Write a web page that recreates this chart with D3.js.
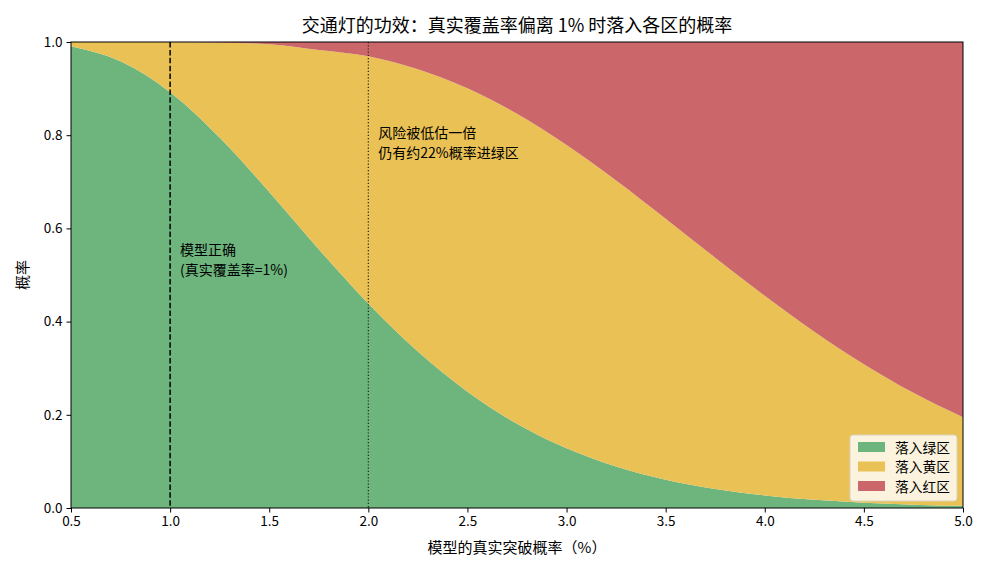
<!DOCTYPE html>
<html><head><meta charset="utf-8">
<script src="https://cdn.jsdelivr.net/npm/d3@7/dist/d3.min.js"></script>
<style>
html,body{margin:0;padding:0;background:#fff;}
text{font-family:"Noto Sans CJK SC","Noto Sans",sans-serif;fill:#000;}
</style></head>
<body><svg id="chart" width="990" height="572"></svg>
<script>
// true breach probability (%)
const pTrue = [0.5,0.75,1.0,1.25,1.5,1.75,2.0,2.25,2.5,2.75,3.0,3.25,3.5,3.75,4.0,4.25,4.5,4.75,5.0];
const greenProb = [0.9911,0.9585,0.8922,0.7948,0.6780,0.5554,0.4387,0.3356,0.2495,0.1809,0.1282,0.0891,0.0608,0.0408,0.0270,0.0176,0.0114,0.0072,0.0046];
const yellowProb = [0.0089,0.0414,0.1076,0.2038,0.3172,0.4275,0.5309,0.6060,0.6510,0.6650,0.6509,0.6138,0.5601,0.4964,0.4284,0.3608,0.2973,0.2399,0.1900];
const redProb = [0.0000,0.0001,0.0002,0.0014,0.0048,0.0171,0.0304,0.0584,0.0995,0.1541,0.2209,0.2971,0.3791,0.4628,0.5446,0.6216,0.6913,0.7529,0.8054];
const seriesNames = ["落入绿区","落入黄区","落入红区"];
const xTicks = [0.5,1.0,1.5,2.0,2.5,3.0,3.5,4.0,4.5,5.0];
const yTicks = [0.0,0.2,0.4,0.6,0.8,1.0];
const titleText = "交通灯的功效：真实覆盖率偏离 1% 时落入各区的概率";
const xLabel = "模型的真实突破概率（%）";
const yLabel = "概率";

const colors = ["#6db57d","#e9c155","#cb676a"];
const svg = d3.select("#chart");
const m = {l:71, r:963, t:42, b:508};
const x = d3.scaleLinear().domain([0.5,5.0]).range([m.l,m.r]);
const y = d3.scaleLinear().domain([0,1]).range([m.b,m.t]);

const rows = pTrue.map((p,i)=>({p, g:greenProb[i], yl:yellowProb[i], r:redProb[i]}));
const stack = d3.stack().keys(["g","yl","r"]);
const layers = stack(rows);

svg.append("defs").append("clipPath").attr("id","clip")
  .append("rect").attr("x",m.l).attr("y",m.t).attr("width",m.r-m.l).attr("height",m.b-m.t);

const area = d3.area().curve(d3.curveMonotoneX)
  .x(d=>x(d.data.p)).y0(d=>y(d[0])).y1(d=>y(Math.min(1,d[1])));
const g = svg.append("g").attr("clip-path","url(#clip)");
g.selectAll("path.layer").data(layers).join("path")
  .attr("class","layer")
  .attr("fill",(d,i)=>colors[i])
  .attr("d",(d,i)=> i===2 ? d3.area().curve(d3.curveMonotoneX).x(e=>x(e.data.p)).y0(e=>y(e[0])).y1(y(1))(d) : area(d));

// reference lines
svg.append("line").attr("x1",x(1.0)).attr("x2",x(1.0)).attr("y1",m.t).attr("y2",m.b)
  .attr("stroke","#000").attr("stroke-width",1.5).attr("stroke-dasharray","5.5,2.4");
svg.append("line").attr("x1",x(2.0)).attr("x2",x(2.0)).attr("y1",m.t).attr("y2",m.b)
  .attr("stroke","#222").attr("stroke-width",1.2).attr("stroke-dasharray","1.2,2");

// annotations
const ann1 = svg.append("text").attr("font-size",14);
ann1.append("tspan").attr("x",x(1.05)).attr("y",y(0.5)-20).text("模型正确");
ann1.append("tspan").attr("x",x(1.05)).attr("y",y(0.5)).text("(真实覆盖率=1%)");
const ann2 = svg.append("text").attr("font-size",14);
ann2.append("tspan").attr("x",x(2.05)).attr("y",y(0.75)-21).text("风险被低估一倍");
ann2.append("tspan").attr("x",x(2.05)).attr("y",y(0.75)-1).text("仍有约22%概率进绿区");

// axes
const xAxis = d3.axisBottom(x).tickValues(xTicks).tickFormat(d3.format(".1f")).tickSize(4.5).tickPadding(4);
const yAxis = d3.axisLeft(y).tickValues(yTicks).tickFormat(d3.format(".1f")).tickSize(4.5).tickPadding(4);
const gx = svg.append("g").attr("transform",`translate(0,${m.b})`).call(xAxis);
const gy = svg.append("g").attr("transform",`translate(${m.l},0)`).call(yAxis);
[gx,gy].forEach(a=>{
  a.select(".domain").remove();
  a.selectAll("text").attr("font-size",13.5).style("font-family",'"Noto Sans CJK SC","Noto Sans",sans-serif').attr("fill","#000");
  a.selectAll("line").attr("stroke","#000").attr("stroke-width",1);
});
svg.append("rect").attr("x",m.l).attr("y",m.t).attr("width",m.r-m.l).attr("height",m.b-m.t)
  .attr("fill","none").attr("stroke","#000").attr("stroke-width",1);

// titles
svg.append("text").attr("x",(m.l+m.r)/2).attr("y",32).attr("text-anchor","middle").attr("font-size",18).text(titleText);
svg.append("text").attr("x",(m.l+m.r)/2).attr("y",553).attr("text-anchor","middle").attr("font-size",15).text(xLabel);
svg.append("text").attr("transform",`translate(28,${(m.t+m.b)/2}) rotate(-90)`).attr("text-anchor","middle").attr("font-size",15).text(yLabel);

// legend
const lg = svg.append("g").attr("transform",`translate(850,435)`);
lg.append("rect").attr("width",107).attr("height",66).attr("rx",3)
  .attr("fill","#fbf3dd").attr("stroke","#d8d2c2").attr("stroke-width",1);
seriesNames.forEach((n,i)=>{
  lg.append("rect").attr("x",8).attr("y",7+i*19.5).attr("width",27).attr("height",10).attr("fill",colors[i]);
  lg.append("text").attr("x",45).attr("y",17.5+i*19.5).attr("font-size",13.75).text(n);
});
</script></body></html>
